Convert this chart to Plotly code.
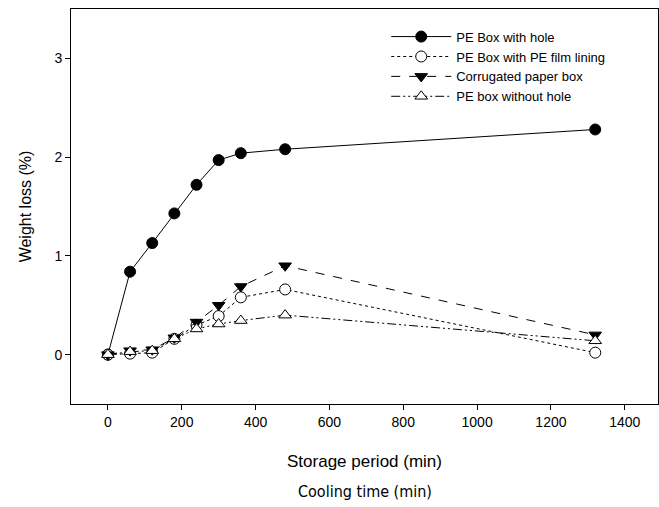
import plotly.graph_objects as go

x = [0, 60, 120, 180, 240, 300, 360, 480, 1320]
pe_hole = [0.0, 0.84, 1.13, 1.43, 1.72, 1.97, 2.04, 2.08, 2.28]
pe_film = [0.0, 0.01, 0.02, 0.16, 0.30, 0.39, 0.58, 0.66, 0.02]
corrugated = [0.0, 0.04, 0.05, 0.17, 0.33, 0.50, 0.69, 0.90, 0.20]
pe_nohole = [0.0, 0.03, 0.04, 0.16, 0.26, 0.31, 0.345, 0.40, 0.14]

names = ["PE Box with hole", "PE Box with PE film lining", "Corrugated paper box", "PE box without hole"]
series = [pe_hole, pe_film, corrugated, pe_nohole]
symbols = ["circle", "circle", "triangle-down", "triangle-up"]
fills = ["black", "white", "black", "white"]
sizes = [11, 11, 11, 11]
dashes = ["solid", "dot", "dash", "9px,3px,2px,3px,2px,3px"]

fig = go.Figure()
for n, ys, s, f, sz, d in zip(names, series, symbols, fills, sizes, dashes):
    fig.add_trace(go.Scatter(
        x=x, y=ys, name=n, mode="lines+markers",
        line=dict(color="black", width=1, dash=d),
        marker=dict(symbol=s, size=sz, color=f, line=dict(color="black", width=1)),
    ))

fig.update_layout(
    width=659, height=507,
    margin=dict(l=71, r=1, t=9, b=103),
    paper_bgcolor="white", plot_bgcolor="white",
    font=dict(family="Liberation Sans, Arial", size=14, color="black"),
    showlegend=True,
    legend=dict(x=0.537, y=0.968, xanchor="left", yanchor="top",
                bgcolor="rgba(0,0,0,0)", font=dict(size=13),
                tracegroupgap=0, itemwidth=60),
    xaxis=dict(range=[-100, 1490], tickvals=[0, 200, 400, 600, 800, 1000, 1200, 1400],
               showgrid=False, zeroline=False, showline=True, linecolor="black",
               linewidth=1, mirror=True, ticks="outside", ticklen=5, tickcolor="black",
               title=dict(text="Storage period (min)", font=dict(size=17), standoff=26)),
    yaxis=dict(range=[-0.5, 3.5], tickvals=[0, 1, 2, 3],
               showgrid=False, zeroline=False, showline=True, linecolor="black",
               linewidth=1, mirror=True, ticks="outside", ticklen=5, tickcolor="black",
               title=dict(text="Weight loss (%)", font=dict(size=16), standoff=18)),
    annotations=[dict(text="Cooling time (min)", x=0.5, y=-0.222, xref="paper", yref="paper",
                      xanchor="center", yanchor="middle", showarrow=False,
                      font=dict(size=16, family="DejaVu Sans Condensed, Liberation Sans Narrow, sans-serif"))],
)

fig.write_html("out.html")
